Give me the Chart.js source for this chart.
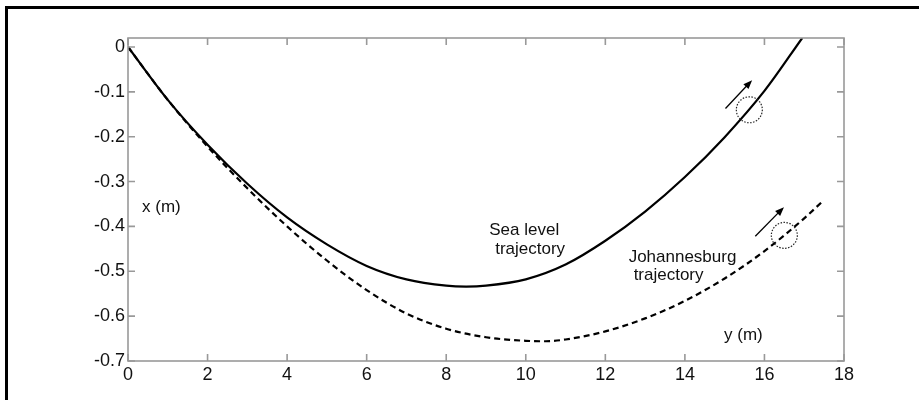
<!DOCTYPE html>
<html>
<head>
<meta charset="utf-8">
<script src="https://cdn.jsdelivr.net/npm/chart.js@4.4.1/dist/chart.umd.min.js"></script>
<style>
  body { margin: 0; background: #fff; }
  #wrap { position: relative; width: 919px; height: 400px; overflow: hidden; }
  #frame { position: absolute; left: 5px; top: 6px; width: 940px; height: 420px;
           border-top: 3px solid #000; border-left: 3px solid #000; box-sizing: border-box; }
  canvas { position: absolute; left: 0; top: 0; }
</style>
</head>
<body>
<div id="wrap">
  <div id="frame"></div>
  <canvas id="myChart" width="919" height="400"></canvas>
</div>
<script>
// sea level trajectory (solid)
var seaX = [0, 1, 2, 3, 4, 5, 6, 7, 8, 8.5, 9, 10, 11, 12, 13, 14, 15, 16, 16.95];
var seaY = [0, -0.118, -0.218, -0.305, -0.380, -0.440, -0.488, -0.518, -0.532, -0.534, -0.532, -0.518, -0.485, -0.432, -0.367, -0.290, -0.201, -0.098, 0.02];

// Johannesburg trajectory (dashed)
var jhbX = [0, 1, 2, 3, 4, 5, 6, 7, 8, 9, 10, 10.5, 11, 12, 13, 14, 15, 16, 17, 17.45];
var jhbY = [0, -0.118, -0.222, -0.315, -0.400, -0.476, -0.542, -0.594, -0.628, -0.647, -0.655, -0.656, -0.652, -0.634, -0.605, -0.566, -0.516, -0.455, -0.382, -0.345];

var xTicks = [0, 2, 4, 6, 8, 10, 12, 14, 16, 18];
var yTicks = [-0.7, -0.6, -0.5, -0.4, -0.3, -0.2, -0.1, 0];
var yTickLabels = ['-0.7', '-0.6', '-0.5', '-0.4', '-0.3', '-0.2', '-0.1', '0'];

// text notes, arrows and dotted circles (in data units)
var notes = [
  {text: 'Sea level', x: 9.96, y: -0.408},
  {text: 'trajectory', x: 10.11, y: -0.451},
  {text: 'Johannesburg', x: 13.94, y: -0.469},
  {text: 'trajectory', x: 13.59, y: -0.509},
  {text: 'x (m)', x: 0.84, y: -0.357},
  {text: 'y (m)', x: 15.47, y: -0.642}
];
var arrows = [
  {x0: 15.02, y0: -0.137, x1: 15.69, y1: -0.074},
  {x0: 15.77, y0: -0.422, x1: 16.49, y1: -0.357}
];
var circles = [
  {x: 15.62, y: -0.140},
  {x: 16.50, y: -0.420}
];

function pts(xs, ys) {
  return xs.map(function (x, i) { return {x: x, y: ys[i]}; });
}

var FONT = '"Liberation Sans", Arial, sans-serif';

var boxPlugin = {
  id: 'box',
  afterDraw: function (chart) {
    var ctx = chart.ctx, a = chart.chartArea;
    var sx = chart.scales.x, sy = chart.scales.y;
    ctx.save();
    ctx.strokeStyle = '#999';
    ctx.lineWidth = 1.6;
    ctx.strokeRect(a.left, a.top, a.right - a.left, a.bottom - a.top);
    ctx.beginPath();
    xTicks.forEach(function (v) {
      var px = sx.getPixelForValue(v);
      ctx.moveTo(px, a.bottom); ctx.lineTo(px, a.bottom - 7);
      ctx.moveTo(px, a.top); ctx.lineTo(px, a.top + 7);
    });
    yTicks.forEach(function (v) {
      var py = sy.getPixelForValue(v);
      ctx.moveTo(a.left, py); ctx.lineTo(a.left + 7, py);
      ctx.moveTo(a.right, py); ctx.lineTo(a.right - 7, py);
    });
    ctx.stroke();

    // dotted circles
    ctx.strokeStyle = '#222';
    ctx.lineWidth = 1.2;
    ctx.setLineDash([1.5, 1.5]);
    circles.forEach(function (c) {
      ctx.beginPath();
      ctx.arc(sx.getPixelForValue(c.x), sy.getPixelForValue(c.y), 13, 0, Math.PI * 2);
      ctx.stroke();
    });
    ctx.setLineDash([]);

    // arrows
    ctx.strokeStyle = '#000';
    ctx.fillStyle = '#000';
    ctx.lineWidth = 1.3;
    arrows.forEach(function (r) {
      var x0 = sx.getPixelForValue(r.x0), y0 = sy.getPixelForValue(r.y0);
      var x1 = sx.getPixelForValue(r.x1), y1 = sy.getPixelForValue(r.y1);
      var ang = Math.atan2(y1 - y0, x1 - x0);
      ctx.beginPath();
      ctx.moveTo(x0, y0); ctx.lineTo(x1 - 6 * Math.cos(ang), y1 - 6 * Math.sin(ang));
      ctx.stroke();
      ctx.beginPath();
      ctx.moveTo(x1, y1);
      ctx.lineTo(x1 - 9 * Math.cos(ang) + 3.5 * Math.sin(ang), y1 - 9 * Math.sin(ang) - 3.5 * Math.cos(ang));
      ctx.lineTo(x1 - 9 * Math.cos(ang) - 3.5 * Math.sin(ang), y1 - 9 * Math.sin(ang) + 3.5 * Math.cos(ang));
      ctx.closePath();
      ctx.fill();
    });

    // labels
    ctx.fillStyle = '#111';
    ctx.font = '17px ' + FONT;
    ctx.textAlign = 'center';
    ctx.textBaseline = 'middle';
    notes.forEach(function (n) {
      ctx.fillText(n.text, sx.getPixelForValue(n.x), sy.getPixelForValue(n.y));
    });
    ctx.restore();
  }
};

var ctx = document.getElementById('myChart');

const cfg = {
  type: 'scatter',
  data: {
    datasets: [
      {label: 'Sea level trajectory', data: pts(seaX, seaY), showLine: true,
       borderColor: '#000', borderWidth: 2.2, pointRadius: 0, cubicInterpolationMode: 'monotone'},
      {label: 'Johannesburg trajectory', data: pts(jhbX, jhbY), showLine: true,
       borderColor: '#000', borderWidth: 2.2, borderDash: [6, 4], pointRadius: 0, cubicInterpolationMode: 'monotone'}
    ]
  },
  options: {
    responsive: false,
    animation: false,
    layout: {padding: {left: 0, top: 38, right: 75, bottom: 0}},
    plugins: {legend: {display: false}, tooltip: {enabled: false}},
    scales: {
      x: {
        type: 'linear', min: 0, max: 18,
        afterBuildTicks: function (s) { s.ticks = xTicks.map(function (v) { return {value: v}; }); },
        afterFit: function (s) { s.height = 39; },
        grid: {display: false, drawTicks: false}, border: {display: false},
        ticks: {color: '#111', font: {family: FONT, size: 18}, padding: 3, maxRotation: 0, autoSkip: false,
                callback: function (v) { return String(v); }}
      },
      y: {
        type: 'linear', min: -0.7, max: 0.02,
        afterBuildTicks: function (s) { s.ticks = yTicks.map(function (v) { return {value: v}; }); },
        afterFit: function (s) { s.width = 128; },
        grid: {display: false, drawTicks: false}, border: {display: false},
        ticks: {color: '#111', font: {family: FONT, size: 18}, padding: 3, autoSkip: false,
                callback: function (v, i) { return yTickLabels[i]; }}
      }
    }
  },
  plugins: [boxPlugin]
};

new Chart(ctx, cfg);
</script>
</body>
</html>
